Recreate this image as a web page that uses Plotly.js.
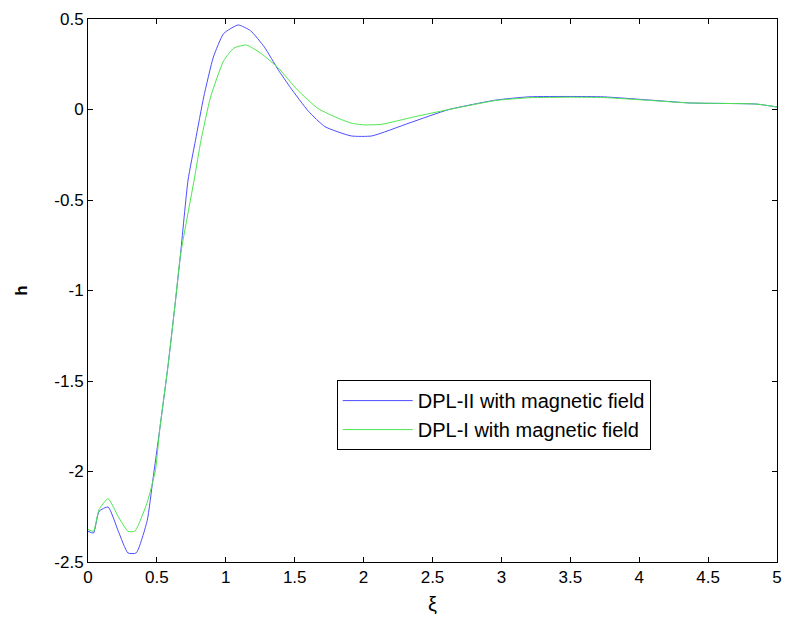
<!DOCTYPE html>
<html>
<head>
<meta charset="utf-8">
<script src="https://cdn.plot.ly/plotly-3.0.1.min.js"></script>
<style>
  html, body { margin: 0; padding: 0; background: #ffffff; }
  #chart { width: 792px; height: 628px; }
</style>
</head>
<body>
<div id="chart"></div>
<script>
// Profile of h against ξ for the two dual-phase-lag models
const xiDPL2 = [0, 0.04, 0.08, 0.146, 0.22, 0.29, 0.35, 0.43, 0.47, 0.52, 0.58, 0.63, 0.67, 0.726, 0.78, 0.84, 0.91, 0.985, 1.09, 1.18, 1.28, 1.38, 1.47, 1.6, 1.72, 1.91, 2.06, 2.33, 2.62, 2.96, 3.2, 3.5, 3.74, 4.08, 4.37, 4.85, 5.0];
const hDPL2  = [-2.33, -2.34, -2.22, -2.196, -2.33, -2.45, -2.45, -2.27, -2.05, -1.77, -1.42, -1.09, -0.81, -0.39, -0.17, 0.07, 0.29, 0.42, 0.467, 0.435, 0.345, 0.22, 0.12, -0.01, -0.095, -0.146, -0.146, -0.075, 0.0, 0.052, 0.07, 0.072, 0.07, 0.052, 0.036, 0.03, 0.014];

const xiDPL1 = [0, 0.04, 0.08, 0.146, 0.22, 0.29, 0.34, 0.43, 0.49, 0.52, 0.58, 0.63, 0.67, 0.77, 0.82, 0.89, 0.985, 1.06, 1.15, 1.255, 1.38, 1.52, 1.67, 1.82, 1.91, 2.0, 2.13, 2.37, 2.62, 2.96, 3.2, 3.5, 3.74, 4.08, 4.37, 4.85, 5.0];
const hDPL1  = [-2.32, -2.33, -2.21, -2.15, -2.25, -2.33, -2.33, -2.17, -1.99, -1.77, -1.42, -1.09, -0.81, -0.39, -0.17, 0.07, 0.27, 0.34, 0.356, 0.31, 0.23, 0.108, 0.005, -0.05, -0.075, -0.085, -0.082, -0.04, 0.0, 0.05, 0.065, 0.068, 0.066, 0.05, 0.036, 0.03, 0.014];

const seriesNames = ['DPL-II with magnetic field', 'DPL-I with magnetic field'];
const xTickVals = [0, 0.5, 1, 1.5, 2, 2.5, 3, 3.5, 4, 4.5, 5];
const yTickVals = [0.5, 0, -0.5, -1, -1.5, -2, -2.5];

const fontFamily = '"Liberation Sans", Arial, sans-serif';

const traces = [
  {
    x: xiDPL2, y: hDPL2, name: seriesNames[0], legendgroup: 'a',
    type: 'scatter', mode: 'lines',
    line: { color: '#4d4dff', width: 1, shape: 'spline', smoothing: 0.5 }
  },
  {
    x: xiDPL1, y: hDPL1, name: seriesNames[1], legendgroup: 'b',
    type: 'scatter', mode: 'lines',
    line: { color: '#4de64d', width: 1, shape: 'spline', smoothing: 0.5 }
  }
];

const axisCommon = {
  showgrid: false, zeroline: false,
  showline: true, linecolor: '#000000', linewidth: 1, mirror: 'ticks',
  ticks: 'inside', ticklen: 5, tickwidth: 1, tickcolor: '#000000',
  tickfont: { family: fontFamily, size: 17, color: '#000000' }
};

const layout = {
  width: 792, height: 628,
  margin: { l: 88, r: 15, t: 19, b: 66 },
  paper_bgcolor: '#ffffff', plot_bgcolor: '#ffffff',
  showlegend: true,
  xaxis: Object.assign({}, axisCommon, {
    range: [0, 5], tickvals: xTickVals, ticktext: xTickVals.map(String),
    title: { text: 'ξ', font: { family: fontFamily, size: 20, color: '#000000' }, standoff: 10 }
  }),
  yaxis: Object.assign({}, axisCommon, {
    range: [-2.5, 0.5], tickvals: yTickVals, ticktext: yTickVals.map(String),
    title: { text: '<b>h</b>', font: { family: fontFamily, size: 17, color: '#000000' }, standoff: 22 }
  }),
  legend: {
    x: 0.361, y: 0.335, xanchor: 'left', yanchor: 'top',
    bgcolor: '#ffffff', bordercolor: '#000000', borderwidth: 1,
    font: { family: fontFamily, size: 20, color: '#000000' },
    itemwidth: 70, tracegroupgap: 0
  }
};

Plotly.newPlot('chart', traces, layout, { displayModeBar: false, staticPlot: true });
</script>
</body>
</html>
